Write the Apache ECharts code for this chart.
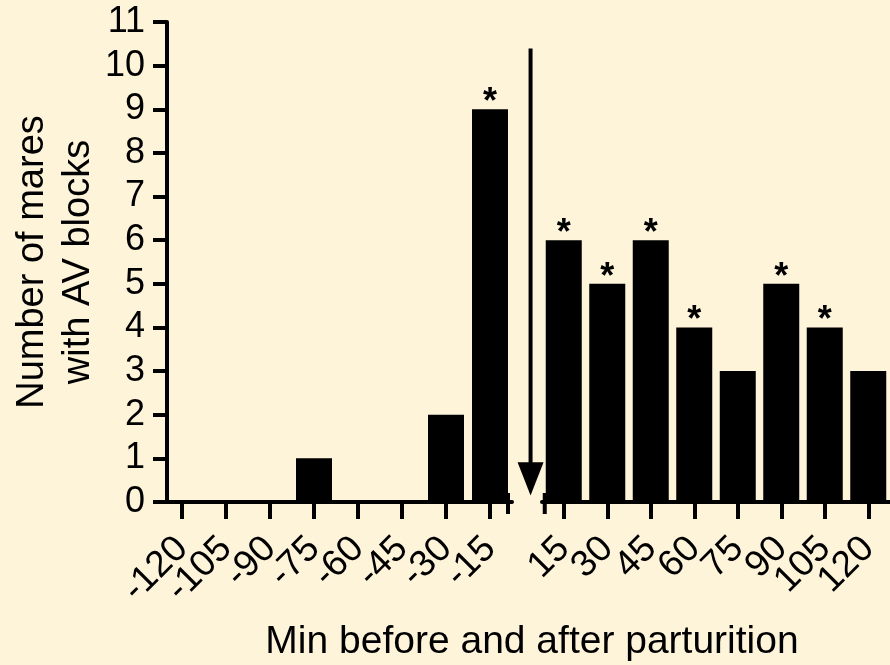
<!DOCTYPE html>
<html>
<head>
<meta charset="utf-8">
<script src="https://cdn.jsdelivr.net/npm/echarts@6/dist/echarts.min.js"></script>
<style>
html,body{margin:0;padding:0;background:#FEF4DA;}
#c{width:890px;height:665px;}
</style>
</head>
<body>
<div id="c"></div>
<script>
// ---- data ----
const beforeMin = ['-120', '-105', '-90', '-75', '-60', '-45', '-30', '-15'];
const beforeCount = [0, 0, 0, 1, 0, 0, 2, 9];
const beforeSig = [false, false, false, false, false, false, false, true];
const afterMin = ['15', '30', '45', '60', '75', '90', '105', '120'];
const afterCount = [6, 5, 6, 4, 3, 5, 4, 3];
const afterSig = [true, true, true, true, false, true, true, false];
const yTicks = [0, 1, 2, 3, 4, 5, 6, 7, 8, 9, 10, 11];
const yTitle = 'Number of mares\nwith AV blocks';
const xTitle = 'Min before and after parturition';
// arrow (parturition marker): fraction of the way from the last "before" bar to the first "after" bar
const arrowFrac = 0.55, arrowTop = 10.39, arrowHeadTop = 0.91, arrowTip = 0.15;

const FONT = 'Liberation Sans, Arial, Helvetica, sans-serif';
const chart = echarts.init(document.getElementById('c'), null, {renderer: 'canvas'});

function xAxisCfg(idx, cats) {
  return {
    type: 'category', gridIndex: idx, data: cats, boundaryGap: true,
    axisLine: {show: true, onZero: false, lineStyle: {color: '#000', width: 4}},
    axisTick: {show: true, alignWithLabel: true, interval: 0, length: 17,
      lineStyle: {color: '#000', width: 4}},
    axisLabel: {show: true, interval: 0, rotate: 45, margin: 41, color: '#000',
      fontSize: 37, fontFamily: FONT}
  };
}
function yAxisCfg(idx, show) {
  return {
    type: 'value', gridIndex: idx, min: yTicks[0], max: yTicks[yTicks.length - 1], interval: 1,
    show: show, offset: -7,
    splitLine: {show: false},
    axisLine: {show: true, lineStyle: {color: '#000', width: 4}},
    axisTick: {show: true, length: 14, lineStyle: {color: '#000', width: 4}},
    axisLabel: {show: true, margin: 22, color: '#000', fontSize: 36, fontFamily: FONT,
      showMinLabel: true, showMaxLabel: true},
    name: show ? yTitle : '', nameLocation: 'middle', nameRotate: 90, nameGap: 65,
    nameTextStyle: {color: '#000', fontSize: 38, fontFamily: FONT, lineHeight: 46, align: 'center'}
  };
}
function barSeries(idx, ys, sig) {
  return {
    type: 'bar', xAxisIndex: idx, yAxisIndex: idx, barWidth: 36,
    data: ys,
    itemStyle: {color: '#000'},
    label: {show: true, position: 'top', distance: -12, color: '#000', fontSize: 36,
      fontWeight: 'bold', fontFamily: FONT, formatter: p => sig[p.dataIndex] ? '*' : ''},
    silent: true, animation: false
  };
}

chart.setOption({
  backgroundColor: '#FEF4DA',
  animation: false,
  grid: [
    {left: 160, top: 22, width: 352, height: 480},
    {left: 542, top: 22, width: 352, height: 480}
  ],
  xAxis: [xAxisCfg(0, beforeMin), xAxisCfg(1, afterMin)],
  yAxis: [yAxisCfg(0, true), yAxisCfg(1, false)],
  title: {text: xTitle, left: 527, top: 618, textAlign: 'center',
    textStyle: {color: '#000', fontSize: 39, fontWeight: 'normal', fontFamily: FONT}},
  series: [
    barSeries(0, beforeCount, beforeSig),
    barSeries(1, afterCount, afterSig)
  ]
});

// parturition arrow and axis-break caps placed through the grids' scales
const lastBefore = chart.convertToPixel({gridIndex: 0}, [beforeMin.length - 1, 0]);
const prevBefore = chart.convertToPixel({gridIndex: 0}, [beforeMin.length - 2, 0]);
const firstAfter = chart.convertToPixel({gridIndex: 1}, [0, 0]);
const band = lastBefore[0] - prevBefore[0];
const yZero = lastBefore[1];
const leftEnd = lastBefore[0] + band / 2 - 4;
const rightStart = firstAfter[0] - band / 2 + 3;
const ax = lastBefore[0] + (firstAfter[0] - lastBefore[0]) * arrowFrac;
const yTop = chart.convertToPixel({gridIndex: 0}, [0, arrowTop])[1];
const yHead = chart.convertToPixel({gridIndex: 0}, [0, arrowHeadTop])[1];
const yTip = chart.convertToPixel({gridIndex: 0}, [0, arrowTip])[1];
chart.setOption({
  graphic: [
    {type: 'line', shape: {x1: leftEnd, y1: yZero - 9, x2: leftEnd, y2: yZero + 12},
      style: {stroke: '#000', lineWidth: 4}, silent: true},
    {type: 'line', shape: {x1: rightStart, y1: yZero - 9, x2: rightStart, y2: yZero + 12},
      style: {stroke: '#000', lineWidth: 4}, silent: true},
    {type: 'line', shape: {x1: ax, y1: yTop, x2: ax, y2: yHead + 2},
      style: {stroke: '#000', lineWidth: 4}, silent: true},
    {type: 'polygon', shape: {points: [[ax - 13, yHead], [ax + 13, yHead], [ax, yTip]]},
      style: {fill: '#000'}, silent: true}
  ]
});
</script>
</body>
</html>
